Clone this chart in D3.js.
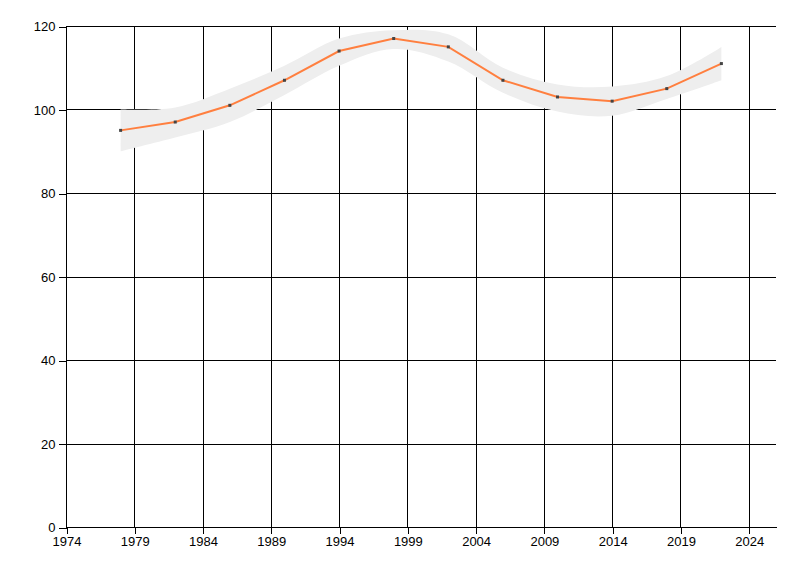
<!DOCTYPE html>
<html>
<head>
<meta charset="utf-8">
<script src="https://cdn.jsdelivr.net/npm/d3@7"></script>
<style>
  html, body { margin: 0; padding: 0; background: #fff; }
  svg { display: block; }
</style>
</head>
<body>
<svg id="chart" width="800" height="576"></svg>
<script>
// ---- data ----
const years  = [1978, 1982, 1986, 1990, 1994, 1998, 2002, 2006, 2010, 2014, 2018, 2022];
const values = [95, 97, 101, 107, 114, 117, 115, 107, 103, 102, 105, 111];
const upper  = [100, 100.5, 105, 110.5, 117, 119, 118, 110, 106, 105.5, 108, 115];
const lower  = [90, 93.3, 97, 103.5, 110.5, 114.5, 111.5, 104, 99.5, 98.5, 102.5, 107];
const xTicks = [1974, 1979, 1984, 1989, 1994, 1999, 2004, 2009, 2014, 2019, 2024];
const yTicks = [0, 20, 40, 60, 80, 100, 120];

// ---- layout ----
const mLeft = 66, mRight = 776, mTop = 26, mBottom = 527;
const fontStack = '"Liberation Sans Narrow", "Liberation Sans", Arial, sans-serif';
const svg = d3.select("#chart");
const x = d3.scaleLinear().domain([1974, 2026]).range([mLeft, mRight]);
const y = d3.scaleLinear().domain([0, 120]).range([mBottom, mTop]);

const data = years.map((yr, i) => ({ yr, v: values[i], hi: upper[i], lo: lower[i] }));

// grid
const grid = svg.append("g").attr("stroke", "#000").attr("stroke-width", 1).attr("shape-rendering", "crispEdges");
grid.selectAll("line.v").data(xTicks).join("line").attr("class", "v")
  .attr("x1", d => Math.round(x(d)) + 0.5).attr("x2", d => Math.round(x(d)) + 0.5)
  .attr("y1", mTop).attr("y2", mBottom);
grid.selectAll("line.h").data(yTicks).join("line").attr("class", "h")
  .attr("x1", mLeft).attr("x2", mRight)
  .attr("y1", d => Math.round(y(d)) + 0.5).attr("y2", d => Math.round(y(d)) + 0.5);

// band
const area = d3.area()
  .x(d => x(d.yr)).y0(d => y(d.lo)).y1(d => y(d.hi))
  .curve(d3.curveCatmullRom.alpha(0.5));
svg.append("path").datum(data).attr("d", area).attr("fill", "#eeeeee");

// line
const line = d3.line().x(d => x(d.yr)).y(d => y(d.v));
svg.append("path").datum(data).attr("d", line)
  .attr("fill", "none").attr("stroke", "#ff7f3f").attr("stroke-width", 2);

// markers
svg.append("g").selectAll("rect").data(data).join("rect")
  .attr("x", d => x(d.yr) - 1.5).attr("y", d => y(d.v) - 1.5)
  .attr("width", 3).attr("height", 3).attr("fill", "#444");

// axes
const xAxis = d3.axisBottom(x).tickValues(xTicks).tickFormat(d3.format("d")).tickSize(6).tickPadding(3);
const gx = svg.append("g").attr("transform", `translate(0.5,${mBottom + 0.5})`).call(xAxis);
gx.select(".domain").attr("d", `M${mLeft - 0.5},0H${mRight}`).attr("stroke", "#000").attr("shape-rendering", "crispEdges");
gx.selectAll(".tick line").attr("stroke", "#000").attr("shape-rendering", "crispEdges");

const yAxis = d3.axisLeft(y).tickValues(yTicks).tickSize(8).tickPadding(3);
const gy = svg.append("g").attr("transform", `translate(${mLeft + 0.5},0.5)`).call(yAxis);
gy.select(".domain").attr("d", `M0,${mTop}V${mBottom}`).attr("stroke", "#000").attr("shape-rendering", "crispEdges");
gy.selectAll(".tick line").attr("stroke", "#000").attr("shape-rendering", "crispEdges");

svg.selectAll(".tick text")
  .attr("font-family", null).attr("font-size", null)
  .style("font-family", fontStack).style("font-size", "13px").style("fill", "#000");
</script>
</body>
</html>
